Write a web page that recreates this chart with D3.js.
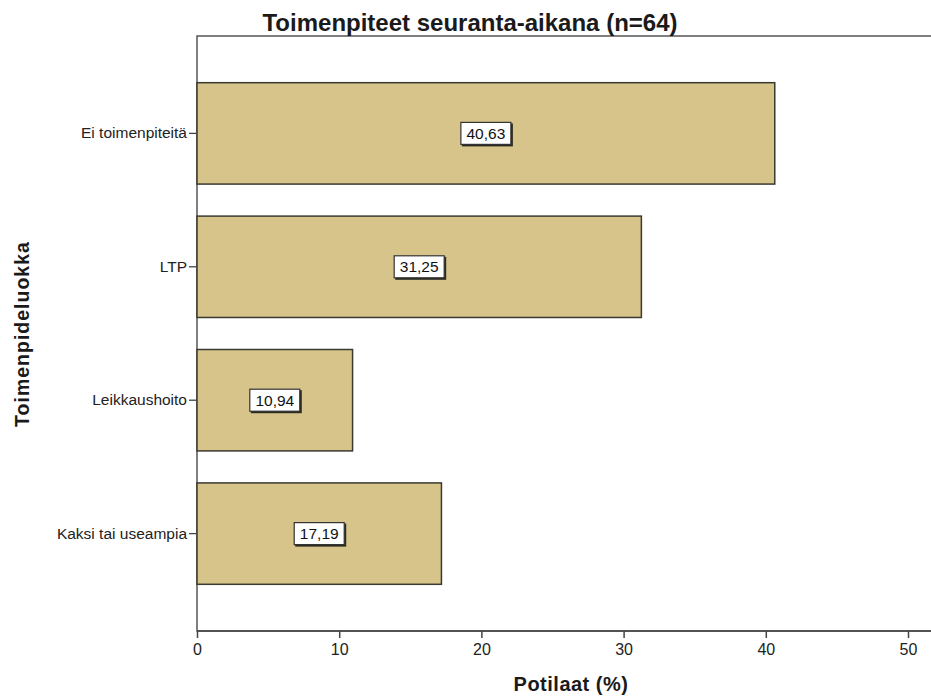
<!DOCTYPE html>
<html>
<head>
<meta charset="utf-8">
<script src="https://cdn.jsdelivr.net/npm/d3@7"></script>
<style>
  html, body { margin: 0; padding: 0; background: #fff; }
  svg { display: block; }
</style>
</head>
<body>
<svg id="chart" width="931" height="696"></svg>
<script>
// Treatment categories and the share of patients (%) in each
const categories = ["Ei toimenpiteitä", "LTP", "Leikkaushoito", "Kaksi tai useampia"];
const percents = [40.63, 31.25, 10.94, 17.19];
const xTicks = [0, 10, 20, 30, 40, 50];

const titleText = "Toimenpiteet seuranta-aikana (n=64)";
const xTitle = "Potilaat (%)";
const yTitle = "Toimenpideluokka";

const FONT = "Liberation Sans, Arial, sans-serif";
const svg = d3.select("#chart");
const plotLeft = 197, plotRight = 908, plotTop = 36, plotBottom = 631;

const x = d3.scaleLinear().domain([0, 50]).range([plotLeft, plotRight]);
const y = d3.scaleBand().domain(categories).range([plotTop, plotBottom])
  .paddingInner(0.24).paddingOuter(0.35);

const fmt = v => d3.format(".2f")(v).replace(".", ",");

// Plot frame
svg.append("rect")
  .attr("x", plotLeft).attr("y", plotTop)
  .attr("width", 960 - plotLeft).attr("height", plotBottom - plotTop)
  .attr("fill", "#fff").attr("stroke", "#555").attr("stroke-width", 1.5);

// Bars
svg.append("g").selectAll("rect")
  .data(categories)
  .join("rect")
  .attr("x", x(0))
  .attr("y", d => y(d))
  .attr("width", (d, i) => x(percents[i]) - x(0))
  .attr("height", y.bandwidth())
  .attr("fill", "#d7c48a")
  .attr("stroke", "#3b3a30")
  .attr("stroke-width", 1.5);

// Value labels in boxes at the middle of each bar
const lab = svg.append("g").selectAll("g")
  .data(categories)
  .join("g")
  .attr("transform", (d, i) => `translate(${x(percents[i] / 2)},${y(d) + y.bandwidth() / 2})`);

lab.append("rect")
  .attr("x", -24).attr("y", -10)
  .attr("width", 51).attr("height", 23)
  .attr("fill", "#2a2a22");
lab.append("rect")
  .attr("x", -25).attr("y", -11)
  .attr("width", 50).attr("height", 22)
  .attr("fill", "#fff").attr("stroke", "#333").attr("stroke-width", 1.2);
lab.append("text")
  .attr("text-anchor", "middle")
  .attr("dy", "0.36em")
  .attr("font-family", FONT)
  .attr("font-size", 15.5)
  .attr("fill", "#111")
  .text((d, i) => fmt(percents[i]));

// X axis
const xAxis = svg.append("g")
  .attr("transform", `translate(0,${plotBottom})`)
  .call(d3.axisBottom(x).tickValues(xTicks).tickSize(-7).tickPadding(13).tickSizeOuter(0));
xAxis.select(".domain").attr("stroke", "#444").attr("stroke-width", 1.5)
  .attr("d", `M${plotLeft},0H960`);
xAxis.selectAll(".tick line").attr("stroke", "#444").attr("stroke-width", 1.5)
  .attr("y1", 0).attr("y2", 7);
xAxis.selectAll(".tick text")
  .attr("font-family", FONT)
  .attr("font-size", 16).attr("fill", "#222");

// Y axis
const yAxis = svg.append("g")
  .attr("transform", `translate(${plotLeft},0)`)
  .call(d3.axisLeft(y).tickSize(8).tickPadding(2).tickSizeOuter(0));
yAxis.select(".domain").remove();
yAxis.selectAll(".tick line").attr("stroke", "#444").attr("stroke-width", 1.3);
yAxis.selectAll(".tick text")
  .attr("font-family", FONT)
  .attr("font-size", 15.5).attr("fill", "#222");

// Titles
svg.append("text")
  .attr("x", 470).attr("y", 31)
  .attr("text-anchor", "middle")
  .attr("font-family", FONT)
  .attr("font-weight", "bold").attr("font-size", 24)
  .attr("fill", "#1a1a1a")
  .text(titleText);

svg.append("text")
  .attr("x", 571).attr("y", 691)
  .attr("text-anchor", "middle")
  .attr("font-family", FONT)
  .attr("font-weight", "bold").attr("font-size", 20)
  .attr("letter-spacing", 0.5)
  .attr("fill", "#1a1a1a")
  .text(xTitle);

svg.append("text")
  .attr("transform", "translate(29,334) rotate(-90)")
  .attr("text-anchor", "middle")
  .attr("font-family", FONT)
  .attr("font-weight", "bold").attr("font-size", 19.5)
  .attr("letter-spacing", 1)
  .attr("fill", "#1a1a1a")
  .text(yTitle);
</script>
</body>
</html>
